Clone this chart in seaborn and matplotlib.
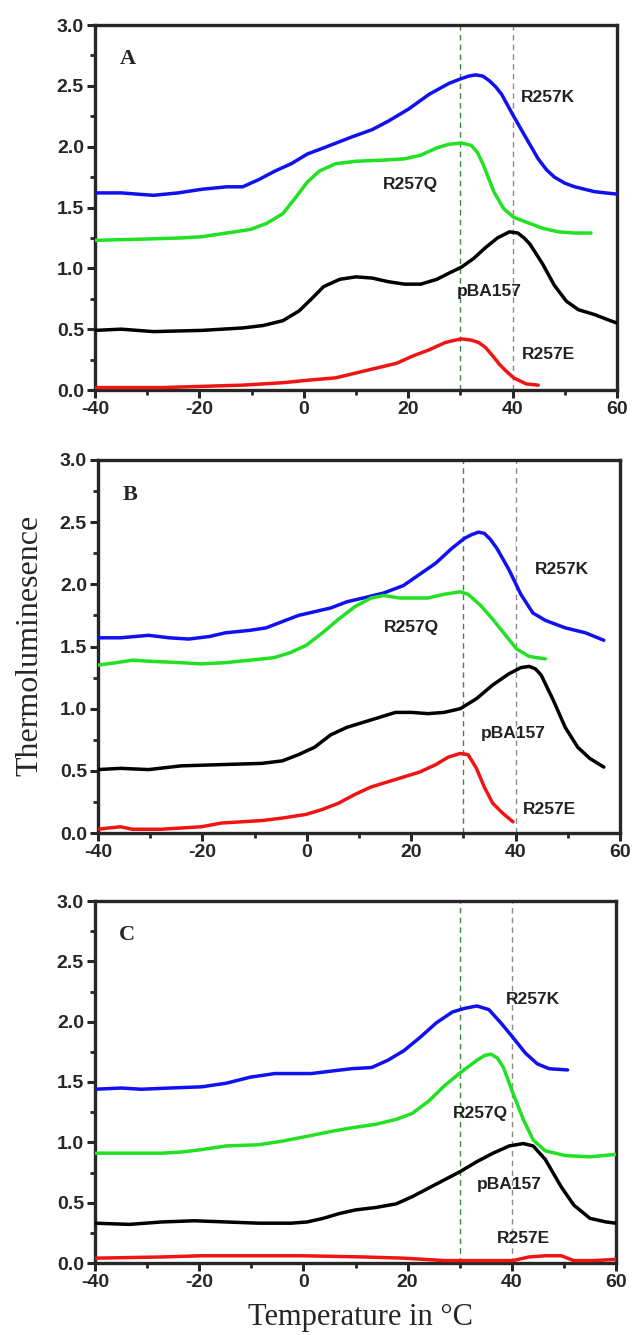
import numpy as np
import pandas as pd
import matplotlib
matplotlib.use('Agg')
import matplotlib.pyplot as plt
import seaborn as sns
from matplotlib.ticker import MultipleLocator

sns.set_style('ticks')
plt.rcParams['font.family'] = ['Liberation Sans', 'DejaVu Sans']
plt.rcParams['axes.unicode_minus'] = False

# ---- data ----
# Panel A
a_k_x = [-40, -35, -28.8, -24.1, -19.5, -14.8, -11.7, -8.6, -5.5, -2.4, 0.7, 3.8, 9.2, 13.1, 16.2, 20.1, 24, 27.8, 30.2, 31.6, 32.9, 34.3, 35.6, 36.8, 37.9, 40.2, 42.6, 44.9, 46.5, 48, 50, 51.9, 55.7, 60]
a_k_y = [1.62, 1.62, 1.60, 1.62, 1.65, 1.67, 1.67, 1.73, 1.80, 1.86, 1.94, 1.99, 2.08, 2.14, 2.21, 2.31, 2.43, 2.52, 2.56, 2.58, 2.59, 2.58, 2.54, 2.49, 2.43, 2.25, 2.07, 1.90, 1.81, 1.75, 1.70, 1.67, 1.63, 1.61]
a_q_x = [-40, -31, -23.3, -19.5, -14.8, -10.2, -7.1, -4, -1.6, 0.7, 3, 6.1, 10, 15.4, 19.3, 22.4, 25.5, 27.8, 30.2, 32.1, 33.3, 34.4, 36.4, 38.3, 40.2, 42.6, 45.7, 48.8, 51.9, 55]
a_q_y = [1.23, 1.24, 1.25, 1.26, 1.29, 1.32, 1.37, 1.45, 1.58, 1.71, 1.80, 1.86, 1.88, 1.89, 1.90, 1.93, 1.99, 2.02, 2.03, 2.01, 1.95, 1.85, 1.63, 1.49, 1.42, 1.38, 1.33, 1.30, 1.29, 1.29]
a_p_x = [-40, -35, -28.8, -19.5, -11.7, -7.8, -4, -0.9, 1.5, 3.8, 6.9, 10, 13.1, 16.2, 19.3, 22.4, 25.5, 27.8, 30.2, 32.5, 34.8, 37.1, 39.4, 41, 42.2, 43.3, 45.7, 48, 50.3, 52.6, 55.7, 58.1, 60]
a_p_y = [0.49, 0.50, 0.48, 0.49, 0.51, 0.53, 0.57, 0.65, 0.75, 0.85, 0.91, 0.93, 0.92, 0.89, 0.87, 0.87, 0.91, 0.96, 1.01, 1.08, 1.17, 1.25, 1.30, 1.29, 1.25, 1.20, 1.04, 0.86, 0.73, 0.66, 0.62, 0.58, 0.55]
a_e_x = [-40, -27.2, -19.5, -11.7, -4, 0.7, 6.1, 10, 13.9, 17.8, 20.9, 24, 27.1, 29, 30.2, 32.1, 33.5, 34.8, 36.2, 37.5, 38.9, 40.2, 42.6, 44.9]
a_e_y = [0.02, 0.02, 0.03, 0.04, 0.06, 0.08, 0.10, 0.14, 0.18, 0.22, 0.28, 0.33, 0.39, 0.41, 0.42, 0.41, 0.39, 0.35, 0.28, 0.21, 0.15, 0.10, 0.05, 0.04]

# Panel B
b_k_x = [-40, -35.7, -30.3, -26.4, -22.6, -18.7, -15.6, -10.9, -7.8, -4.7, -1.6, 1.5, 4.6, 7.7, 10.8, 14.7, 18.5, 21.6, 24.7, 27.8, 30.2, 31.6, 32.9, 34, 35.2, 36.4, 38.7, 41, 43.3, 45.7, 49.5, 53.4, 56.9]
b_k_y = [1.57, 1.57, 1.59, 1.57, 1.56, 1.58, 1.61, 1.63, 1.65, 1.70, 1.75, 1.78, 1.81, 1.86, 1.89, 1.93, 1.99, 2.08, 2.17, 2.29, 2.37, 2.40, 2.42, 2.41, 2.36, 2.29, 2.12, 1.92, 1.77, 1.71, 1.65, 1.61, 1.55]
b_q_x = [-40, -36.5, -33.4, -29.5, -24.1, -20.2, -15.6, -10.9, -6.3, -3.2, -0.1, 3, 6.1, 9.2, 12.3, 14.7, 17.8, 20.1, 23.2, 26.3, 29.4, 30.9, 33.3, 35.6, 37.9, 40.2, 42.6, 45.7]
b_q_y = [1.35, 1.37, 1.39, 1.38, 1.37, 1.36, 1.37, 1.39, 1.41, 1.45, 1.51, 1.61, 1.72, 1.82, 1.89, 1.91, 1.89, 1.89, 1.89, 1.92, 1.94, 1.92, 1.83, 1.72, 1.60, 1.48, 1.42, 1.40]
b_p_x = [-40, -35.7, -30.3, -24.1, -16.4, -8.6, -4.7, -1.6, 1.5, 4.6, 7.7, 10.8, 13.9, 17, 20.1, 23.2, 26.3, 29.4, 32.5, 35.6, 38.7, 41, 42.6, 43.8, 44.9, 47.2, 49.5, 51.9, 54.2, 56.9]
b_p_y = [0.51, 0.52, 0.51, 0.54, 0.55, 0.56, 0.58, 0.63, 0.69, 0.79, 0.85, 0.89, 0.93, 0.97, 0.97, 0.96, 0.97, 1.00, 1.08, 1.19, 1.28, 1.33, 1.34, 1.32, 1.27, 1.07, 0.85, 0.69, 0.60, 0.53]
b_e_x = [-40, -38, -35.7, -33.4, -28, -24.1, -20.2, -16.4, -12.5, -8.6, -4.7, -0.1, 3, 6.1, 9.2, 12.3, 15.4, 18.5, 21.6, 24.7, 27.1, 29.4, 30.9, 32.5, 34, 35.6, 37.5, 39.5]
b_e_y = [0.03, 0.04, 0.05, 0.03, 0.03, 0.04, 0.05, 0.08, 0.09, 0.10, 0.12, 0.15, 0.19, 0.24, 0.31, 0.37, 0.41, 0.45, 0.49, 0.55, 0.61, 0.64, 0.63, 0.52, 0.37, 0.24, 0.16, 0.09]

# Panel C
c_k_x = [-40, -35, -31.1, -25.7, -19.5, -14.8, -10.2, -5.5, -2.4, 1.5, 5.3, 9.2, 13.1, 16.2, 19.3, 22.4, 25.5, 28.6, 30.9, 33.3, 35.6, 37.9, 40.2, 42.6, 44.9, 47.2, 50.7]
c_k_y = [1.44, 1.45, 1.44, 1.45, 1.46, 1.49, 1.54, 1.57, 1.57, 1.57, 1.59, 1.61, 1.62, 1.68, 1.76, 1.87, 1.99, 2.08, 2.11, 2.13, 2.10, 1.99, 1.87, 1.74, 1.65, 1.61, 1.60]
c_q_x = [-40, -35, -27.2, -23.3, -19.5, -14.8, -8.6, -4, 0.7, 5.3, 9.2, 13.9, 17.8, 20.9, 24, 27.1, 30.2, 33.3, 34.8, 36, 37.2, 38.4, 40.2, 42.2, 44.1, 46.4, 50.3, 55, 60]
c_q_y = [0.91, 0.91, 0.91, 0.92, 0.94, 0.97, 0.98, 1.01, 1.05, 1.09, 1.12, 1.15, 1.19, 1.24, 1.34, 1.47, 1.58, 1.68, 1.72, 1.73, 1.70, 1.62, 1.41, 1.19, 1.02, 0.93, 0.89, 0.88, 0.90]
c_p_x = [-40, -33.4, -27.2, -21, -14.8, -8.6, -2.4, 0.7, 3.8, 6.9, 10, 13.9, 17.8, 20.9, 24, 27.1, 30.2, 33.3, 36.4, 39.5, 42.2, 44.1, 46.4, 49.5, 51.9, 55, 58.1, 60]
c_p_y = [0.33, 0.32, 0.34, 0.35, 0.34, 0.33, 0.33, 0.34, 0.37, 0.41, 0.44, 0.46, 0.49, 0.55, 0.62, 0.69, 0.76, 0.84, 0.91, 0.97, 0.99, 0.97, 0.86, 0.63, 0.48, 0.37, 0.34, 0.33]
c_e_x = [-40, -27.2, -19.5, -11.7, -0.1, 11.6, 19.3, 27.1, 34.8, 40.2, 43.3, 46.4, 49.5, 51.9, 55.7, 60]
c_e_y = [0.04, 0.05, 0.06, 0.06, 0.06, 0.05, 0.04, 0.02, 0.02, 0.02, 0.05, 0.06, 0.06, 0.02, 0.02, 0.03]

panel_letters = ['A', 'B', 'C']
series_names = ['R257K', 'R257Q', 'pBA157', 'R257E']
colors = ['#1010f0', '#22e022', '#000000', '#f01414']

panels = [
    [(a_k_x, a_k_y), (a_q_x, a_q_y), (a_p_x, a_p_y), (a_e_x, a_e_y)],
    [(b_k_x, b_k_y), (b_q_x, b_q_y), (b_p_x, b_p_y), (b_e_x, b_e_y)],
    [(c_k_x, c_k_y), (c_q_x, c_q_y), (c_p_x, c_p_y), (c_e_x, c_e_y)],
]

# label positions (data coords)
label_pos = [
    [(46.8, 2.40), (20.5, 1.69), (35.6, 0.81), (46.8, 0.29)],
    [(48.8, 2.12), (20.1, 1.65), (39.5, 0.80), (46.4, 0.19)],
    [(44.1, 2.18), (34.0, 1.24), (39.5, 0.65), (42.2, 0.20)],
]

fig = plt.figure(figsize=(6.33, 13.35), dpi=100)
W, H = 633, 1335
boxes = [(95, 617, 25, 390), (98, 620, 460, 833), (95, 616, 901, 1263)]

for i, (l, r, t, b) in enumerate(boxes):
    ax = fig.add_axes([l / W, 1 - b / H, (r - l) / W, (b - t) / H])
    ax.axvline(30, color='#3c8c3c', ls='--', lw=1, dashes=(4, 3), zorder=1)
    ax.axvline(40, color='#8a8a8a', ls='--', lw=1, dashes=(4, 3), zorder=1)
    for (xs, ys), name, c in zip(panels[i], series_names, colors):
        df = pd.DataFrame({'T': xs, 'TL': ys})
        sns.lineplot(data=df, x='T', y='TL', color=c, lw=2.5, ax=ax,
                     sort=False, estimator=None, zorder=3)
    for (lx, ly), name in zip(label_pos[i], series_names):
        ax.text(lx, ly, name, ha='center', va='center', fontsize=12.5,
                fontweight='bold', color='#222222')
    ax.text(-33.8, 2.72, panel_letters[i], ha='center', va='center',
            fontsize=16, fontweight='bold', family='Liberation Serif')
    ax.set_xlim(-40, 60)
    ax.set_ylim(0, 3.0)
    ax.set_xticks([-40, -20, 0, 20, 40, 60])
    ax.set_yticks([0.0, 0.5, 1.0, 1.5, 2.0, 2.5, 3.0])
    ax.set_yticklabels(['0.0', '0.5', '1.0', '1.5', '2.0', '2.5', '3.0'])
    ax.xaxis.set_minor_locator(MultipleLocator(10))
    ax.yaxis.set_minor_locator(MultipleLocator(0.25))
    ax.tick_params(which='major', direction='out', length=6, width=2.2,
                   labelsize=14, pad=2)
    ax.tick_params(which='minor', direction='out', length=3.5, width=2)
    for lab in ax.get_xticklabels() + ax.get_yticklabels():
        lab.set_fontweight('bold')
    for s in ax.spines.values():
        s.set_linewidth(2.4)
        s.set_visible(True)
    ax.set_xlabel('')
    ax.set_ylabel('')

fig.text(30 / W, 1 - 645 / H, 'Thermoluminesence', rotation=90,
         ha='center', va='center', fontsize=23, family='Liberation Serif')
fig.text(360 / W, 1 - 1318 / H, 'Temperature in \u00b0C', ha='center',
         va='center', fontsize=22, family='Liberation Serif')

fig.savefig('out.png', dpi=100)
